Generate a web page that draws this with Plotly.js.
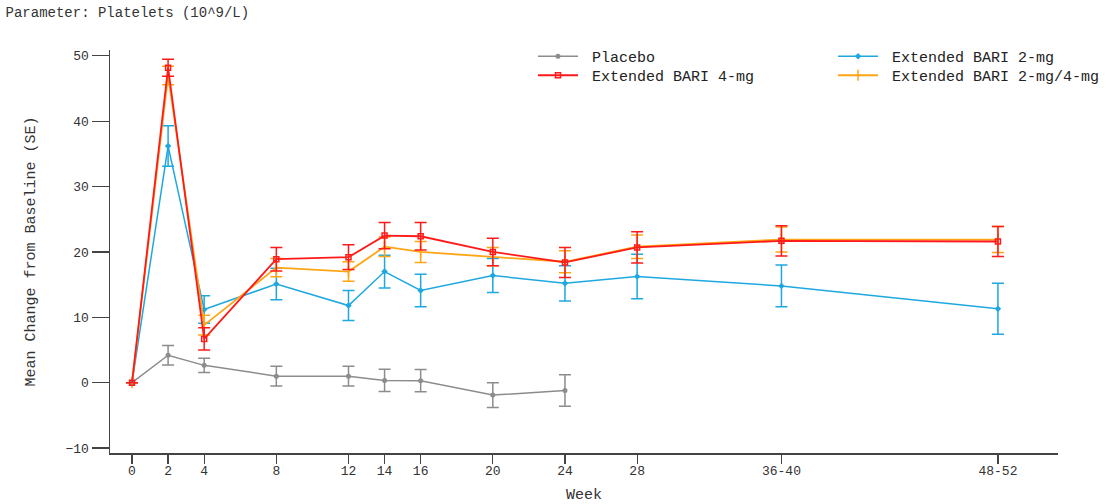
<!DOCTYPE html>
<html>
<head>
<meta charset="utf-8">
<script src="https://cdn.plot.ly/plotly-3.0.1.min.js"></script>
<style>html,body{margin:0;padding:0;background:#fff;}#chart{width:1109px;height:504px;}</style>
</head>
<body>
<div id="chart"></div>
<script>
// Weeks (numeric positions) and tick labels
const weeksAll = [0, 2, 4, 8, 12, 14, 16, 20, 24, 28, 36, 48];
const weeksPlacebo = [0, 2, 4, 8, 12, 14, 16, 20, 24];
const tickLabels = ["0", "2", "4", "8", "12", "14", "16", "20", "24", "28", "36-40", "48-52"];

// Mean change from baseline and SE
const placeboMean = [0, 4.2, 2.65, 1.0, 1.0, 0.35, 0.3, -1.9, -1.2];
const placeboSE   = [0, 1.5, 1.1, 1.5, 1.5, 1.7, 1.7, 1.9, 2.4];

const bari2Mean = [0, 36.2, 11.2, 15.1, 11.8, 17.0, 14.1, 16.4, 15.2, 16.25, 14.8, 11.3];
const bari2SE   = [0, 3.1, 2.1, 2.4, 2.3, 2.5, 2.5, 2.6, 2.7, 3.4, 3.2, 3.9];

const bari24Mean = [0, 47.0, 8.8, 17.6, 17.0, 20.8, 20.0, 19.3, 18.5, 20.8, 21.9, 21.9];
const bari24SE   = [0, 1.4, 1.5, 1.4, 1.5, 1.5, 1.6, 1.4, 1.7, 1.8, 1.9, 2.0];

const bari4Mean = [0, 48.2, 6.7, 18.9, 19.2, 22.5, 22.4, 20.0, 18.4, 20.7, 21.7, 21.6];
const bari4SE   = [0, 1.3, 1.7, 1.8, 1.9, 2.0, 2.1, 2.1, 2.3, 2.4, 2.3, 2.3];

const seriesNames = ["Placebo", "Extended BARI 2-mg", "Extended BARI 2-mg/4-mg", "Extended BARI 4-mg"];
const colors = ["#8c8c8c", "#1ea8e0", "#ffa514", "#ff1a1a"];

const FONT = "'Liberation Mono', 'Courier New', monospace";
const PAD = "\u00a0";

function errs(se, c) {
  return {type: 'data', array: se, visible: true, color: c, thickness: 1.5, width: 6};
}

const traces = [
  {x: weeksPlacebo, y: placeboMean, name: PAD + seriesNames[0], type: 'scatter', mode: 'lines+markers',
   line: {color: colors[0], width: 1.5}, marker: {symbol: 'circle', size: 5, color: colors[0]},
   error_y: errs(placeboSE, colors[0]), legend: 'legend'},
  {x: weeksAll, y: bari2Mean, name: PAD + seriesNames[1], type: 'scatter', mode: 'lines+markers',
   line: {color: colors[1], width: 1.5}, marker: {symbol: 'diamond', size: 5, color: colors[1]},
   error_y: errs(bari2SE, colors[1]), legend: 'legend3'},
  {x: weeksAll, y: bari24Mean, name: PAD + seriesNames[2], type: 'scatter', mode: 'lines+markers',
   line: {color: colors[2], width: 1.8}, marker: {symbol: 'line-ns-open', size: 8, color: colors[2], line: {color: colors[2], width: 1.5}},
   error_y: errs(bari24SE, colors[2]), legend: 'legend4'},
  {x: weeksAll, y: bari4Mean, name: PAD + seriesNames[3], type: 'scatter', mode: 'lines+markers',
   line: {color: colors[3], width: 1.8}, marker: {symbol: 'square-open', size: 5, color: colors[3], line: {color: colors[3], width: 1.5}},
   error_y: errs(bari4SE, colors[3]), legend: 'legend2'}
];

const legendCommon = {
  font: {family: FONT, size: 15, color: '#222'},
  bgcolor: 'rgba(0,0,0,0)', orientation: 'v', itemwidth: 40,
  xanchor: 'left', yanchor: 'top', traceorder: 'normal', tracegroupgap: 0
};

const col1 = 0.4462, col2 = 0.7627, row1 = 1.0248, row2 = 0.9777;

const layout = {
  width: 1109, height: 504,
  margin: {l: 110, r: 51, t: 50, b: 51, autoexpand: false},
  paper_bgcolor: '#fff', plot_bgcolor: '#fff',
  font: {family: FONT, size: 13, color: '#333'},
  title: {text: 'Parameter: Platelets (10^9/L)', font: {family: FONT, size: 14, color: '#333'},
          xref: 'container', yref: 'container', x: 0.005, xanchor: 'left', y: 0.985, yanchor: 'top'},
  showlegend: true,
  legend: Object.assign({}, legendCommon, {x: col1, y: row1}),
  legend2: Object.assign({}, legendCommon, {x: col1, y: row2}),
  legend3: Object.assign({}, legendCommon, {x: col2, y: row1}),
  legend4: Object.assign({}, legendCommon, {x: col2, y: row2}),
  xaxis: {
    range: [-1.22, 51.33], tickmode: 'array', tickvals: weeksAll, ticktext: tickLabels,
    showgrid: false, zeroline: false, showline: true, linecolor: '#444', linewidth: 1.5,
    ticks: 'outside', ticklen: 9, tickwidth: 1.2, tickcolor: '#444', ticklabelstandoff: -4,
    tickfont: {family: FONT, size: 13, color: '#333'},
    title: {text: 'Week', font: {family: FONT, size: 15, color: '#333'}, standoff: 12}
  },
  yaxis: {
    range: [-10.76, 50.9], tickmode: 'array', tickvals: [-10, 0, 10, 20, 30, 40, 50],
    showgrid: false, zeroline: false, showline: true, linecolor: '#444', linewidth: 1.5,
    ticks: 'outside', ticklen: 17, tickwidth: 1.2, tickcolor: '#444',
    tickfont: {family: FONT, size: 13, color: '#333'},
    title: {text: 'Mean Change from Baseline (SE)', font: {family: FONT, size: 15, color: '#333'}, standoff: 26}
  }
};

Plotly.newPlot('chart', traces, layout, {displayModeBar: false, staticPlot: true});
</script>
</body>
</html>
